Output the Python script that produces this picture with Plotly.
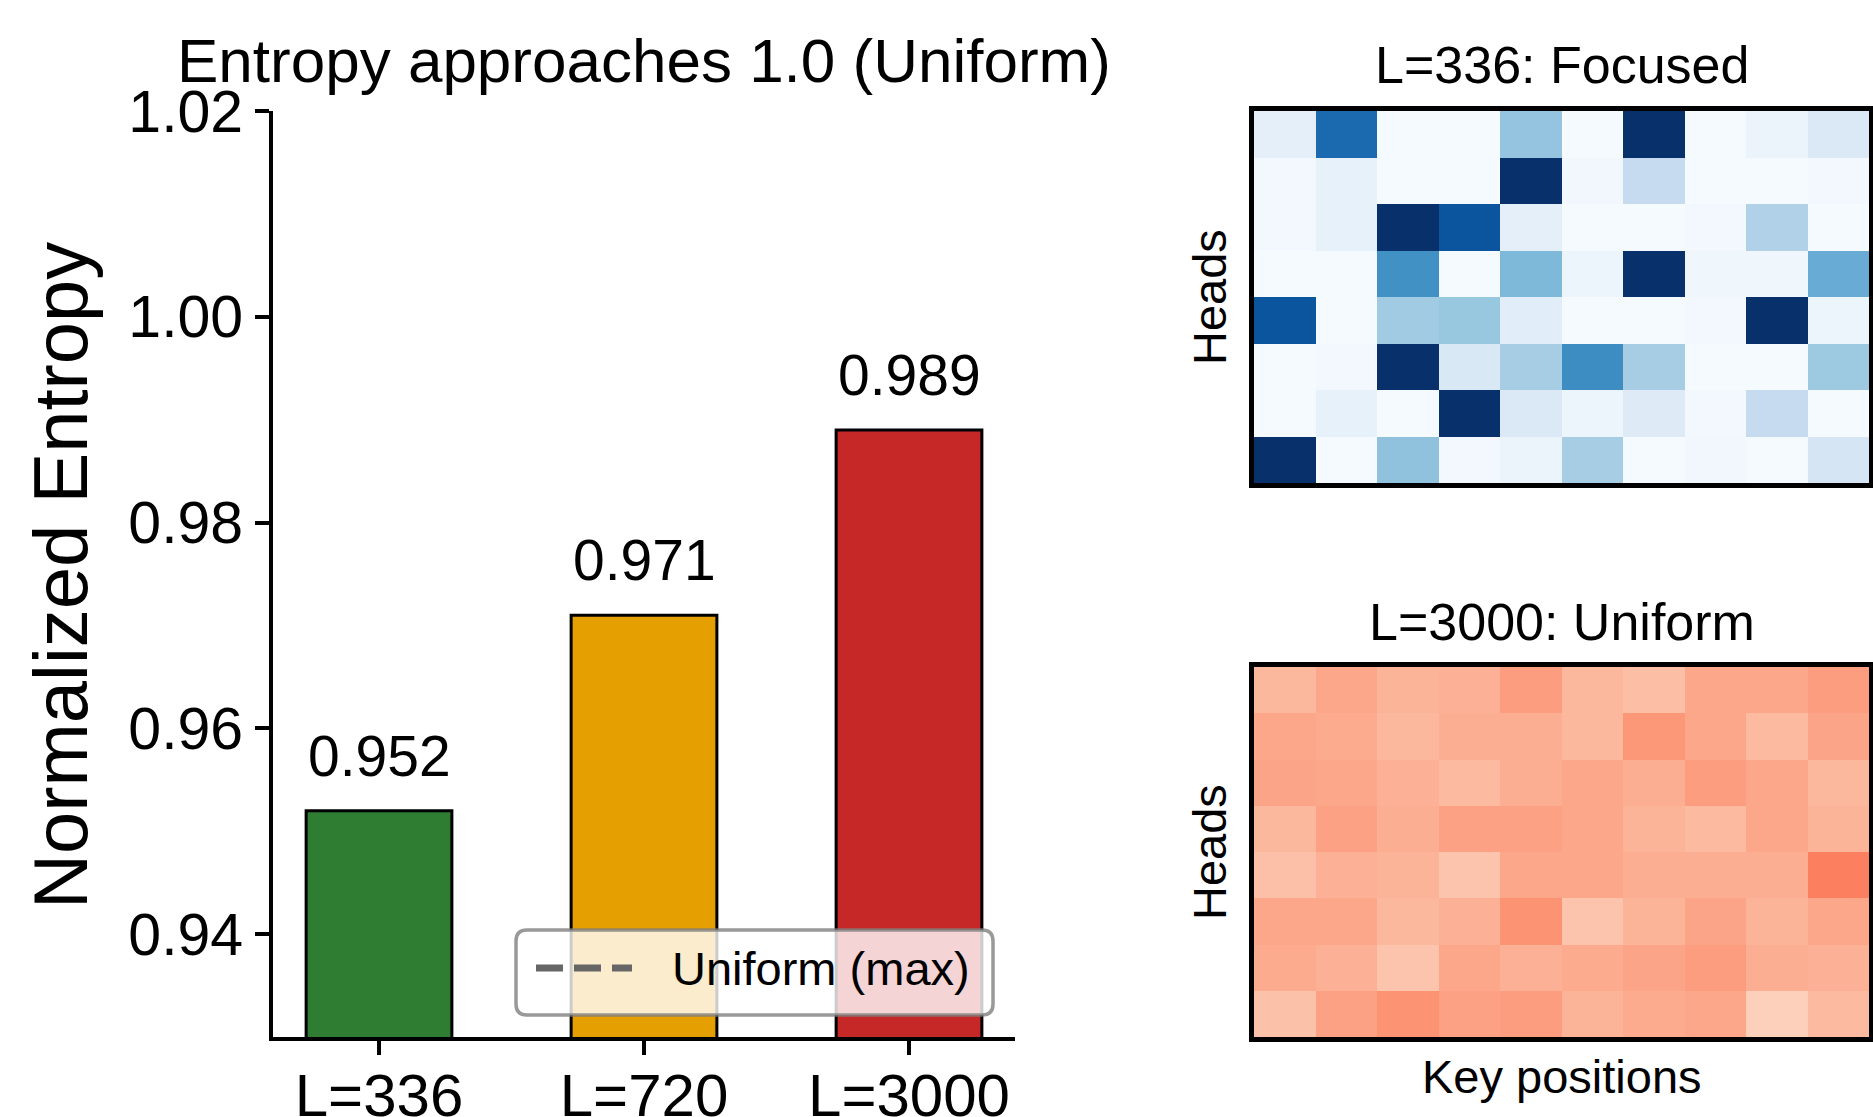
import plotly.graph_objects as go

W, H = 1873, 1117
FONT = "Liberation Sans, Arial, Helvetica, sans-serif"

# ---- bar chart data ----
categories = ["L=336", "L=720", "L=3000"]
entropy = [0.952, 0.971, 0.989]
bar_colors = ["#2E7D32", "#E69F00", "#C62828"]
uniform_level = 1.0
y_ticks = [0.94, 0.96, 0.98, 1.00, 1.02]

# ---- attention maps (8 heads x 10 key positions, colour-scaled 0..1) ----
focused_attn = [
    [0.09, 0.78, 0.01, 0.01, 0.40, 0.01, 1.00, 0.01, 0.06, 0.14],
    [0.02, 0.08, 0.01, 0.01, 1.00, 0.03, 0.25, 0.01, 0.01, 0.02],
    [0.02, 0.08, 1.00, 0.86, 0.09, 0.01, 0.01, 0.02, 0.32, 0.01],
    [0.01, 0.01, 0.63, 0.01, 0.45, 0.05, 1.00, 0.04, 0.04, 0.51],
    [0.86, 0.01, 0.37, 0.39, 0.11, 0.01, 0.01, 0.02, 1.00, 0.05],
    [0.01, 0.02, 1.00, 0.15, 0.35, 0.645, 0.35, 0.01, 0.01, 0.375],
    [0.01, 0.08, 0.01, 1.00, 0.14, 0.05, 0.125, 0.02, 0.25, 0.01],
    [1.00, 0.01, 0.41, 0.02, 0.06, 0.35, 0.01, 0.03, 0.01, 0.17],
]
uniform_attn = [
    [0.26, 0.31, 0.27, 0.28, 0.34, 0.26, 0.24, 0.31, 0.31, 0.34],
    [0.31, 0.30, 0.26, 0.29, 0.29, 0.26, 0.36, 0.31, 0.25, 0.32],
    [0.32, 0.31, 0.28, 0.25, 0.29, 0.31, 0.29, 0.34, 0.31, 0.26],
    [0.26, 0.33, 0.29, 0.33, 0.33, 0.31, 0.27, 0.25, 0.31, 0.27],
    [0.235, 0.28, 0.27, 0.22, 0.31, 0.31, 0.29, 0.29, 0.29, 0.43],
    [0.31, 0.31, 0.26, 0.28, 0.37, 0.22, 0.27, 0.32, 0.27, 0.31],
    [0.30, 0.28, 0.22, 0.31, 0.28, 0.30, 0.32, 0.34, 0.29, 0.28],
    [0.23, 0.33, 0.37, 0.33, 0.34, 0.27, 0.30, 0.31, 0.18, 0.25],
]

blues = ["#f7fbff", "#deebf7", "#c6dbef", "#9ecae1", "#6baed6",
         "#4292c6", "#2171b5", "#08519c", "#08306b"]
reds = ["#fff5f0", "#fee0d2", "#fcbba1", "#fc9272", "#fb6a4a",
        "#ef3b2c", "#cb181d", "#a50f15", "#67000d"]


def scale(colors):
    n = len(colors) - 1
    return [[i / n, c] for i, c in enumerate(colors)]


def px_x(v):
    return v / W


def px_y(v):
    return 1 - v / H


def rounded_rect(x0, y0, x1, y1, r):
    """SVG path (paper coords) for a rounded rectangle given in pixels."""
    X = lambda v: f"{px_x(v):.6f}"
    Y = lambda v: f"{px_y(v):.6f}"
    return (f"M{X(x0 + r)},{Y(y0)} L{X(x1 - r)},{Y(y0)} Q{X(x1)},{Y(y0)} {X(x1)},{Y(y0 + r)} "
            f"L{X(x1)},{Y(y1 - r)} Q{X(x1)},{Y(y1)} {X(x1 - r)},{Y(y1)} "
            f"L{X(x0 + r)},{Y(y1)} Q{X(x0)},{Y(y1)} {X(x0)},{Y(y1 - r)} "
            f"L{X(x0)},{Y(y0 + r)} Q{X(x0)},{Y(y0)} {X(x0 + r)},{Y(y0)} Z")


fig = go.Figure()

# bars
fig.add_trace(go.Bar(
    x=categories, y=entropy, width=0.55,
    marker=dict(color=bar_colors, line=dict(color="black", width=3)),
    xaxis="x", yaxis="y", showlegend=False,
))

# uniform reference line across the whole axis
fig.add_trace(go.Scatter(
    x=[-0.4, 2.4], y=[uniform_level, uniform_level], mode="lines",
    line=dict(color="#666666", width=6, dash="23px,15px"),
    xaxis="x", yaxis="y", showlegend=False, cliponaxis=False,
))

# heatmaps
fig.add_trace(go.Heatmap(
    z=focused_attn, colorscale=scale(blues), zmin=0, zmax=1,
    showscale=False, xaxis="x2", yaxis="y2",
))
fig.add_trace(go.Heatmap(
    z=uniform_attn, colorscale=scale(reds), zmin=0, zmax=1,
    showscale=False, xaxis="x3", yaxis="y3",
))

axis_line = dict(showline=True, linecolor="black", showgrid=False, zeroline=False,
                 automargin=False)

bar_left, bar_right, bar_top, bar_bottom = 273, 1015, 111, 1037
hm_left, hm_right = 1254, 1869
hm1_top, hm1_bottom = 111, 483
hm2_top, hm2_bottom = 667, 1037

fig.update_layout(
    width=W, height=H,
    margin=dict(l=0, r=0, t=0, b=0, autoexpand=False),
    paper_bgcolor="white", plot_bgcolor="white",
    font=dict(family=FONT, color="black"),
    xaxis=dict(domain=[px_x(bar_left), px_x(bar_right)], range=[-0.4, 2.4],
               linewidth=4, ticks="outside", ticklen=14, tickwidth=4, tickcolor="black",
               tickfont=dict(size=60), ticklabelstandoff=-11, anchor="y", **axis_line),
    yaxis=dict(domain=[px_y(bar_bottom), px_y(bar_top)], range=[0.93, 1.02],
               tickvals=y_ticks, tickformat=".2f",
               linewidth=4, ticks="outside", ticklen=14, tickwidth=4, tickcolor="black",
               tickfont=dict(size=59), anchor="x", **axis_line),
    xaxis2=dict(domain=[px_x(hm_left), px_x(hm_right)], range=[-0.5, 9.5],
                showticklabels=False, ticks="", mirror=True, linewidth=4.5,
                anchor="y2", **axis_line),
    yaxis2=dict(domain=[px_y(hm1_bottom), px_y(hm1_top)], range=[7.5, -0.5],
                showticklabels=False, ticks="", mirror=True, linewidth=4.5,
                anchor="x2", **axis_line),
    xaxis3=dict(domain=[px_x(hm_left), px_x(hm_right)], range=[-0.5, 9.5],
                showticklabels=False, ticks="", mirror=True, linewidth=4.5,
                anchor="y3", **axis_line),
    yaxis3=dict(domain=[px_y(hm2_bottom), px_y(hm2_top)], range=[7.5, -0.5],
                showticklabels=False, ticks="", mirror=True, linewidth=4.5,
                anchor="x3", **axis_line),
)

ann = []
# value labels on bars
for c, v in zip(categories, entropy):
    ann.append(dict(x=c, y=v, xref="x", yref="y", text=f"{v:.3f}", showarrow=False,
                    yanchor="bottom", yshift=21, font=dict(size=57)))

hm_cx = px_x((hm_left + hm_right) / 2)
ann += [
    dict(x=px_x((bar_left + bar_right) / 2), y=px_y(61), xref="paper", yref="paper",
         text="Entropy approaches 1.0 (Uniform)", showarrow=False,
         xanchor="center", yanchor="middle", font=dict(size=62)),
    dict(x=px_x(60), y=px_y(576), xref="paper", yref="paper",
         text="Normalized Entropy", textangle=-90, showarrow=False,
         xanchor="center", yanchor="middle", font=dict(size=76)),
    dict(x=hm_cx, y=px_y(65), xref="paper", yref="paper", text="L=336: Focused",
         showarrow=False, xanchor="center", yanchor="middle", font=dict(size=52)),
    dict(x=hm_cx, y=px_y(622), xref="paper", yref="paper", text="L=3000: Uniform",
         showarrow=False, xanchor="center", yanchor="middle", font=dict(size=52)),
    dict(x=px_x(1209), y=px_y((hm1_top + hm1_bottom) / 2), xref="paper", yref="paper",
         text="Heads", textangle=-90, showarrow=False,
         xanchor="center", yanchor="middle", font=dict(size=47)),
    dict(x=px_x(1209), y=px_y((hm2_top + hm2_bottom) / 2), xref="paper", yref="paper",
         text="Heads", textangle=-90, showarrow=False,
         xanchor="center", yanchor="middle", font=dict(size=47)),
    dict(x=hm_cx, y=px_y(1076), xref="paper", yref="paper", text="Key positions",
         showarrow=False, xanchor="center", yanchor="middle", font=dict(size=47)),
    # legend entry text
    dict(x=px_x(670), y=px_y(968), xref="paper", yref="paper", text="Uniform (max)",
         showarrow=False, xanchor="left", yanchor="middle", font=dict(size=47)),
]
fig.update_layout(annotations=ann)

# legend frame and dashed sample
fig.update_layout(shapes=[
    dict(type="path", xref="paper", yref="paper", layer="above",
         path=rounded_rect(516, 930, 993, 1015, 11),
         fillcolor="rgba(255,255,255,0.8)", line=dict(color="rgba(128,128,128,0.8)", width=3.5)),
    dict(type="line", xref="paper", yref="paper", layer="above",
         x0=px_x(536), x1=px_x(632), y0=px_y(968), y1=px_y(968),
         line=dict(color="#666666", width=7, dash="27px,11px")),
])

fig.write_html("out.html")
